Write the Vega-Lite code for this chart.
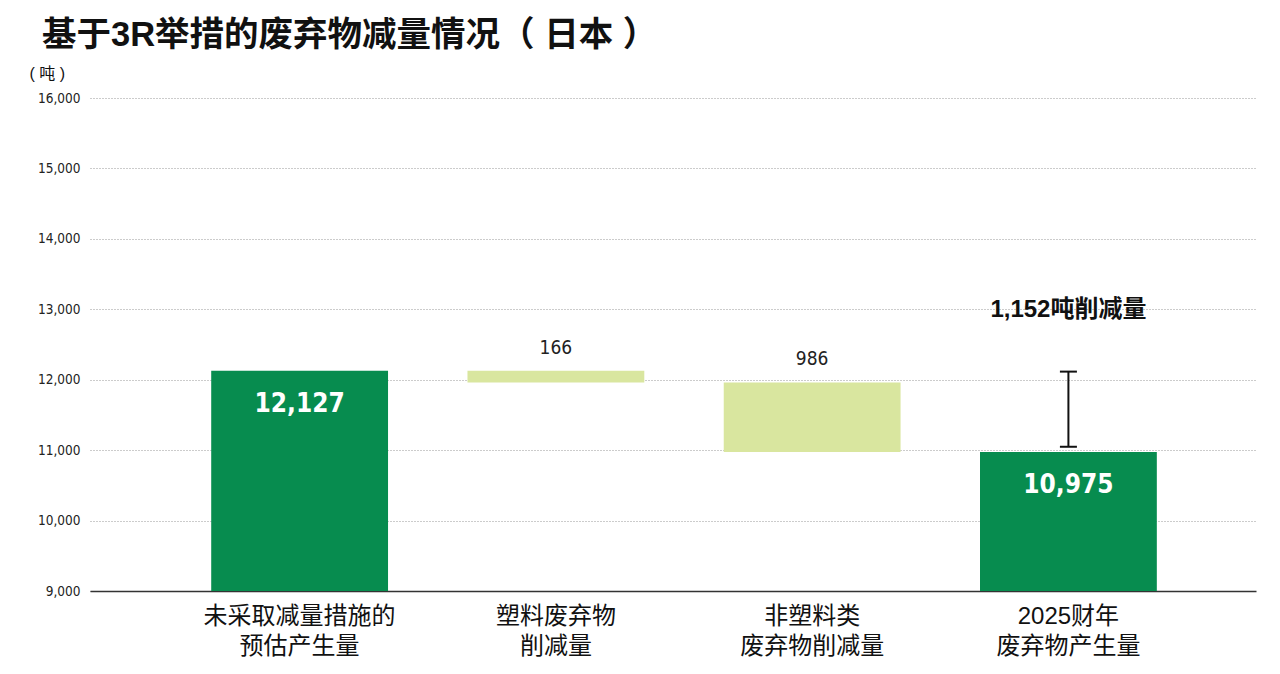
{
  "$schema": "https://vega.github.io/schema/vega-lite/v6.json",
  "width": 1166,
  "height": 493,
  "autosize": {"type": "none"},
  "padding": {"left": 90, "top": 98, "right": 24, "bottom": 83},
  "background": "white",
  "title": {
    "text": "基于3R举措的废弃物减量情况（ 日本 ）",
    "anchor": "start",
    "frame": "group",
    "dx": -48,
    "offset": -22,
    "baseline": "bottom",
    "font": "Liberation Sans, Noto Sans CJK SC",
    "fontSize": 34.5,
    "fontWeight": "bold",
    "color": "#111"
  },
  "datasets": {
    "steps": [
      {"item": "未采取减量措施的|预估产生量", "start": 9000, "end": 12127, "value": "12,127", "kind": "total"},
      {"item": "塑料废弃物|削减量", "start": 11961, "end": 12127, "value": "166", "kind": "reduction"},
      {"item": "非塑料类|废弃物削减量", "start": 10975, "end": 11961, "value": "986", "kind": "reduction"},
      {"item": "2025财年|废弃物产生量", "start": 9000, "end": 10975, "value": "10,975", "kind": "total"}
    ],
    "note": [
      {"item": "2025财年|废弃物产生量", "lo": 11048, "hi": 12115, "at": 12990, "text": "1,152吨削减量"}
    ]
  },
  "data": {"name": "steps"},
  "encoding": {
    "x": {
      "field": "item",
      "type": "nominal",
      "sort": null,
      "scale": {"paddingInner": 0.31, "paddingOuter": 0.43, "align": 0.55},
      "axis": {
        "title": null,
        "labelAngle": 0,
        "labelExpr": "split(datum.label, '|')",
        "labelFont": "Liberation Sans, Noto Sans CJK SC",
        "labelFontSize": 24,
        "labelLineHeight": 30,
        "labelColor": "#111",
        "labelPadding": 13,
        "labelLimit": 0,
        "ticks": false,
        "domainColor": "#333",
        "domainWidth": 1.5,
        "grid": false
      }
    }
  },
  "layer": [
    {
      "mark": {"type": "bar"},
      "encoding": {
        "y": {
          "field": "end",
          "type": "quantitative",
          "scale": {"domain": [9000, 16000], "zero": false, "nice": false},
          "axis": {
            "title": "( 吨 )",
            "titleAngle": 0,
            "titleX": -61,
            "titleY": -25,
            "titleAlign": "left",
            "titleBaseline": "middle",
            "titleFont": "Liberation Sans, Noto Sans CJK SC",
            "titleFontSize": 16,
            "titleFontWeight": "normal",
            "titleColor": "#111",
            "values": [9000, 10000, 11000, 12000, 13000, 14000, 15000, 16000],
            "format": ",.0f",
            "labelFont": "DejaVu Sans Condensed, Liberation Sans, sans-serif",
            "labelFontSize": 13.5,
            "labelColor": "#222",
            "labelPadding": 10,
            "ticks": false,
            "domain": false,
            "gridColor": "#999",
            "gridDash": [1, 2],
            "gridWidth": 1
          }
        },
        "y2": {"field": "start"},
        "color": {
          "field": "kind",
          "type": "nominal",
          "scale": {"domain": ["total", "reduction"], "range": ["#078c4f", "#d9e69f"]},
          "legend": null
        }
      }
    },
    {
      "transform": [{"filter": "datum.kind == 'total'"}],
      "mark": {
        "type": "text",
        "dy": 33,
        "baseline": "middle",
        "font": "DejaVu Sans Condensed, Liberation Sans, sans-serif",
        "fontWeight": "bold",
        "fontSize": 26,
        "color": "white"
      },
      "encoding": {
        "y": {"field": "end", "type": "quantitative"},
        "text": {"field": "value"}
      }
    },
    {
      "transform": [{"filter": "datum.kind == 'reduction'"}],
      "mark": {
        "type": "text",
        "dy": -23,
        "baseline": "middle",
        "font": "DejaVu Sans Condensed, Liberation Sans, sans-serif",
        "fontSize": 19,
        "color": "#222"
      },
      "encoding": {
        "y": {"field": "end", "type": "quantitative"},
        "text": {"field": "value"}
      }
    },
    {
      "data": {"name": "note"},
      "mark": {"type": "rule", "color": "#111", "strokeWidth": 2},
      "encoding": {
        "y": {"field": "lo", "type": "quantitative"},
        "y2": {"field": "hi"}
      }
    },
    {
      "data": {"name": "note"},
      "mark": {"type": "tick", "color": "#111", "size": 17, "thickness": 2},
      "encoding": {"y": {"field": "lo", "type": "quantitative"}}
    },
    {
      "data": {"name": "note"},
      "mark": {"type": "tick", "color": "#111", "size": 17, "thickness": 2},
      "encoding": {"y": {"field": "hi", "type": "quantitative"}}
    },
    {
      "data": {"name": "note"},
      "mark": {
        "type": "text",
        "baseline": "middle",
        "font": "Liberation Sans, Noto Sans CJK SC",
        "fontWeight": "bold",
        "fontSize": 24,
        "color": "#111"
      },
      "encoding": {
        "y": {"field": "at", "type": "quantitative"},
        "text": {"field": "text"}
      }
    }
  ],
  "config": {
    "view": {"stroke": null},
    "tick": {"opacity": 1}
  }
}
